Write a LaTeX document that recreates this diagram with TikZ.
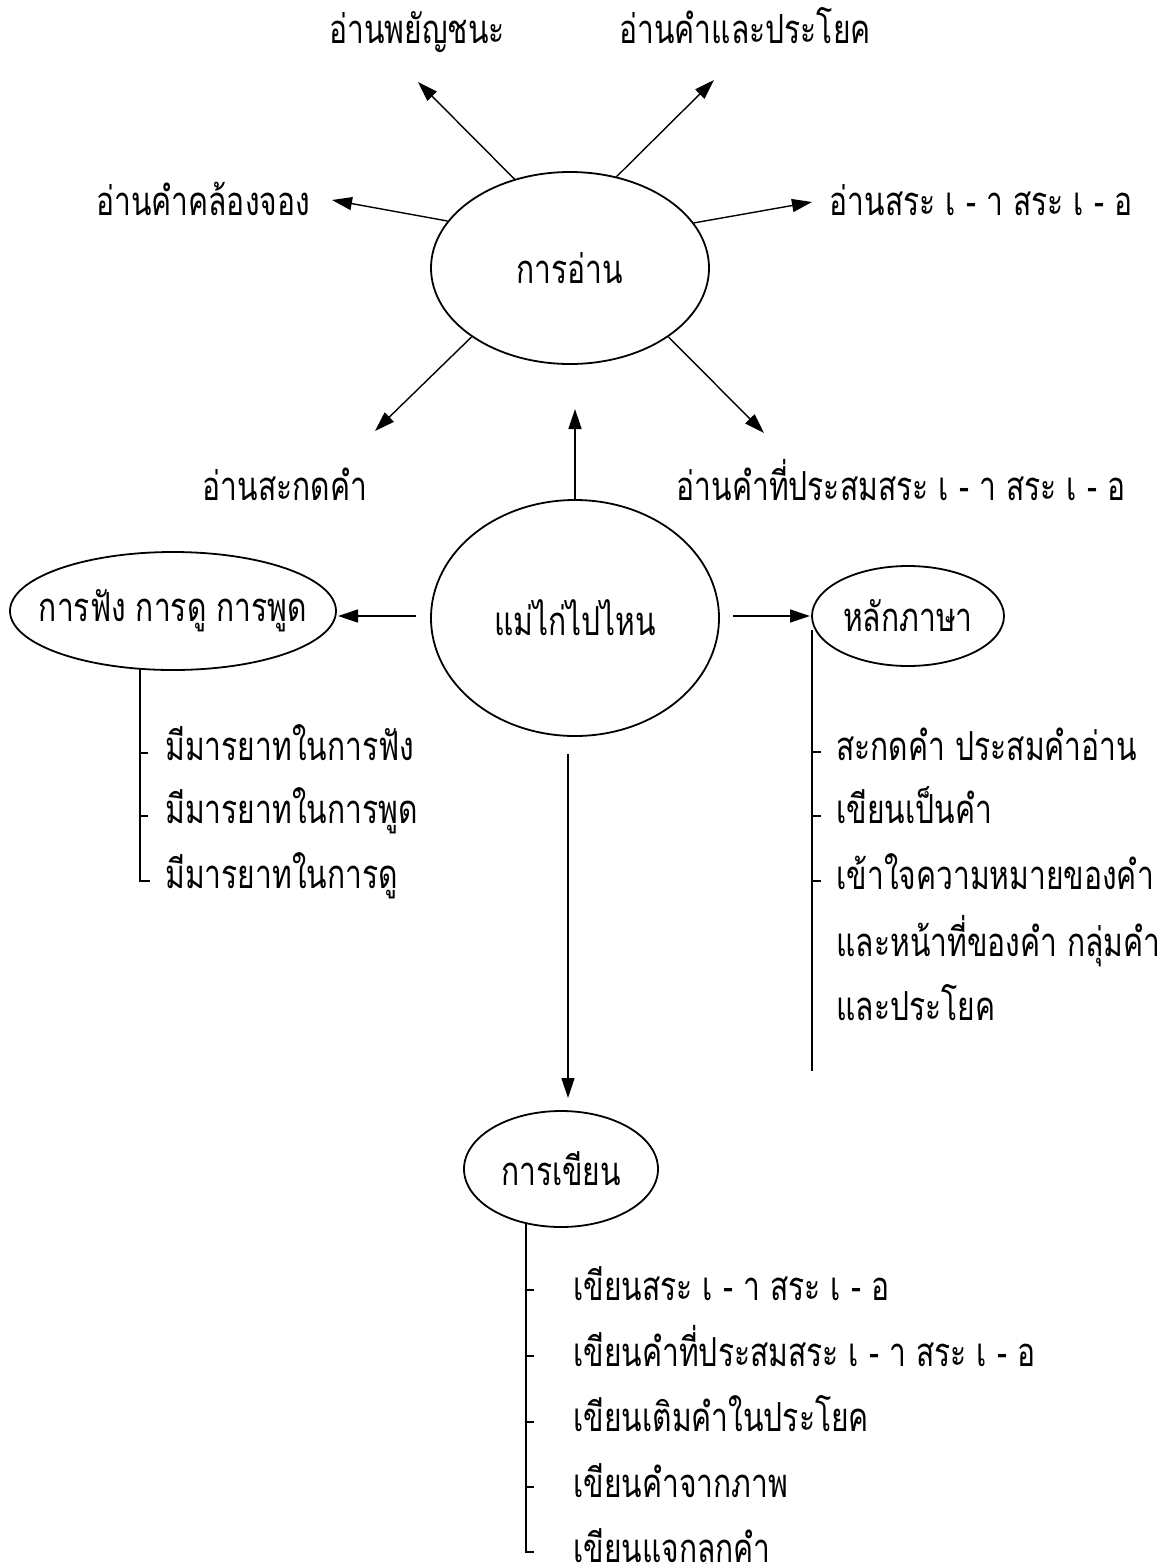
\documentclass[tikz,border=0pt]{standalone}
\usepackage{fontspec}
\newfontfamily\thaifont[Script=Thai,FakeStretch=0.75]{Loma}
\usetikzlibrary{arrows.meta,shapes.geometric}
\begin{document}
\begin{tikzpicture}[x=0.5pt,y=-0.5pt,
  every node/.style={font=\thaifont\fontsize{20}{24}\selectfont, inner sep=0pt},
  oval/.style={draw, ellipse, line width=0.9pt, inner sep=0pt},
  arr/.style={line width=0.7pt, -{Triangle[length=10pt,width=6.5pt]}},
  branch/.style={line width=0.7pt},
  lbl/.style={anchor=base},
  item/.style={anchor=base west}]
\useasboundingbox[fill=white] (0,0) rectangle (1172,1564);

% ellipses
\node[oval, minimum width=139pt, minimum height=96pt, label=center:{การอ่าน}] (read) at (570,268) {};
\node[oval, minimum width=144pt, minimum height=118pt, label=center:{แม่ไก่ไปไหน}] (main) at (575,618) {};
\node[oval, minimum width=163pt, minimum height=59pt, label=center:{การฟัง การดู การพูด}] (listen) at (173,611) {};
\node[oval, minimum width=96pt, minimum height=50pt, label=center:{หลักภาษา}] (lang) at (908,616) {};
\node[oval, minimum width=97pt, minimum height=58pt, label=center:{การเขียน}] (write) at (561,1169) {};

% reading labels
\node[lbl] (r1) at (417,43) {อ่านพยัญชนะ};
\node[lbl] (r2) at (745,43) {อ่านคำและประโยค};
\node[lbl] (r3) at (203,215) {อ่านคำคล้องจอง};
\node[lbl] (r4) at (981,215) {อ่านสระ เ - า สระ เ - อ};
\node[lbl] (r5) at (285,500) {อ่านสะกดคำ};
\node[lbl] (r6) at (901,500) {อ่านคำที่ประสมสระ เ - า สระ เ - อ};

\coordinate (t1) at (418,82);
\coordinate (t2) at (714,80);
\coordinate (t3) at (332,200);
\coordinate (t4) at (812,202);
\coordinate (t5) at (375,431);
\coordinate (t6) at (764,433);
\draw[arr] (read.122.5) -- (t1);
\draw[arr] (read.63) -- (t2);
\draw[arr] (read.159) -- (t3);
\draw[arr] (read.20) -- (t4);
\draw[arr] (read.215) -- (t5);
\draw[arr] (read.325) -- (t6);

% main connectors
\coordinate (up) at (575,409);
\draw[arr] (main.north) -- (up);
\coordinate (al1) at (416,616);
\coordinate (al2) at (338,616);
\draw[arr] (al1) -- (al2);
\coordinate (ar1) at (733,616);
\coordinate (ar2) at (810,616);
\draw[arr] (ar1) -- (ar2);
\coordinate (dn1) at (568,754);
\coordinate (dn2) at (568,1098);
\draw[arr] (dn1) -- (dn2);

% left list
\coordinate (lv0) at (140,669);
\coordinate (lv3) at (140,881);
\draw[branch] (lv0) -- (lv3) -- ++(10,0);
\draw[branch] (140,753) -- ++(8,0);
\draw[branch] (140,816) -- ++(8,0);
\node[item] (l1) at (165,760) {มีมารยาทในการฟัง};
\node[item] (l2) at (165,823) {มีมารยาทในการพูด};
\node[item] (l3) at (165,888) {มีมารยาทในการดู};

% right list
\coordinate (rv0) at (812,630);
\coordinate (rv1) at (812,1071);
\draw[branch] (rv0) -- (rv1);
\draw[branch] (812,752) -- ++(9,0);
\draw[branch] (812,816) -- ++(9,0);
\draw[branch] (812,881) -- ++(9,0);
\node[item] (g1) at (836,760) {สะกดคำ ประสมคำอ่าน};
\node[item] (g2) at (836,823) {เขียนเป็นคำ};
\node[item] (g3) at (836,889) {เข้าใจความหมายของคำ};
\node[item] (g4) at (836,956) {และหน้าที่ของคำ กลุ่มคำ};
\node[item] (g5) at (836,1020) {และประโยค};

% writing list
\coordinate (wv0) at (526,1223);
\coordinate (wv5) at (526,1552);
\draw[branch] (wv0) -- (wv5) -- ++(8,0);
\foreach \yy in {1290,1356,1422,1487} \draw[branch] (526,\yy) -- ++(8,0);
\node[item] (w1) at (573,1300) {เขียนสระ เ - า สระ เ - อ};
\node[item] (w2) at (573,1366) {เขียนคำที่ประสมสระ เ - า สระ เ - อ};
\node[item] (w3) at (573,1431) {เขียนเติมคำในประโยค};
\node[item] (w4) at (573,1497) {เขียนคำจากภาพ};
\node[item] (w5) at (573,1562) {เขียนแจกลูกคำ};
\end{tikzpicture}
\end{document}
